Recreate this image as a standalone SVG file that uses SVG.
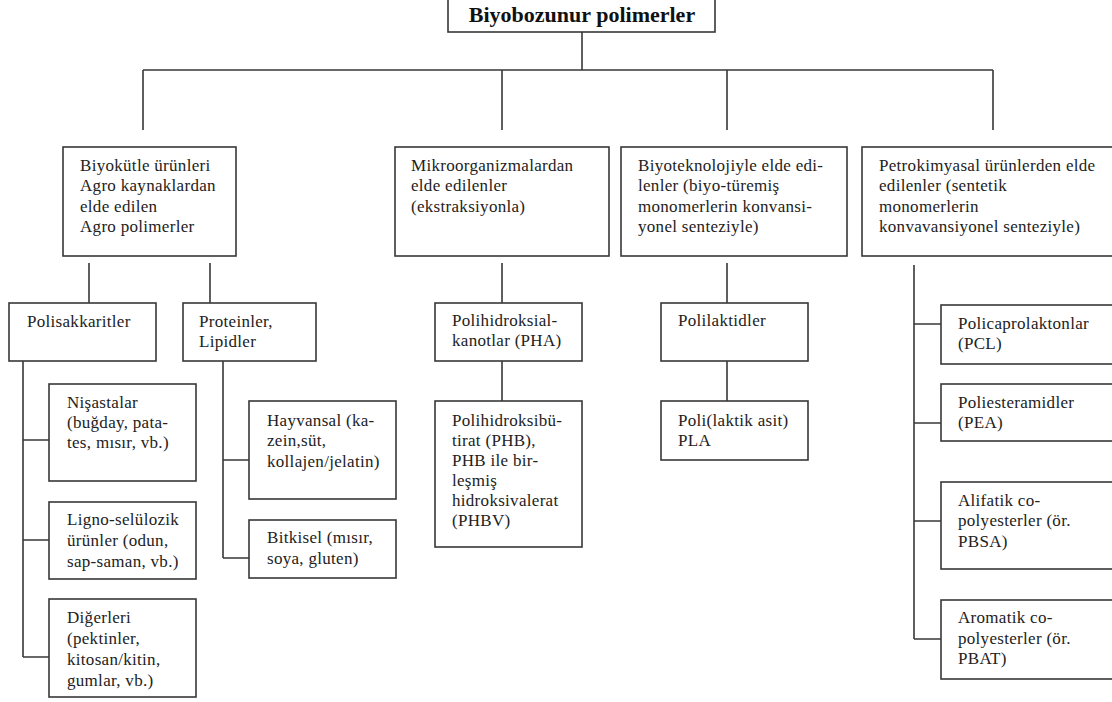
<svg xmlns="http://www.w3.org/2000/svg" width="1112" height="702" viewBox="0 0 1112 702">
<style>
.box{fill:#fff;stroke:#383838;stroke-width:1.6}
.c{fill:none;stroke:#383838;stroke-width:1.6}
.t{font-size:17px;letter-spacing:0.3px;fill:#222}
.h{font-size:22px;font-weight:bold;fill:#111}
</style>
<rect width="1112" height="702" fill="#fff"/>
<g id="connectors">
<path class="c" d="M582 32V70M143 70H993M143 70V130M502 70V130M727 70V130M993 70V130"/>
<path class="c" d="M89 263V303M210 263V303M502 263V303M727 263V303"/>
<path class="c" d="M23 361V657M23 440H49M23 540H49M23 657H49"/>
<path class="c" d="M223 361V558M223 460H249M223 558H249"/>
<path class="c" d="M502 361V401M727 361V401"/>
<path class="c" d="M914 265V639M914 324H941M914 423H941M914 521H941M914 639H941"/>
</g>
<g font-family="Liberation Serif, Times New Roman, Times, serif">
<g id="root">
<rect class="box" x="448" y="-2" width="267" height="34"/>
<text class="h" x="582" y="22" text-anchor="middle">Biyobozunur polimerler</text>
</g>
<g id="biyokutle">
<rect class="box" x="63" y="147" width="173" height="109"/>
<text class="t"><tspan x="80" y="171">Biyokütle ürünleri</tspan><tspan x="80" y="191">Agro kaynaklardan</tspan><tspan x="80" y="212">elde edilen</tspan><tspan x="80" y="232">Agro polimerler</tspan></text>
</g>
<g id="mikro">
<rect class="box" x="395" y="147" width="214" height="109"/>
<text class="t"><tspan x="411" y="171">Mikroorganizmalardan</tspan><tspan x="411" y="191">elde edilenler</tspan><tspan x="411" y="212">(ekstraksiyonla)</tspan></text>
</g>
<g id="biyotek">
<rect class="box" x="621" y="147" width="226" height="109"/>
<text class="t"><tspan x="638" y="171">Biyoteknolojiyle elde edi-</tspan><tspan x="638" y="191">lenler (biyo-türemiş</tspan><tspan x="638" y="212">monomerlerin konvansi-</tspan><tspan x="638" y="232">yonel senteziyle)</tspan></text>
</g>
<g id="petro">
<rect class="box" x="862" y="147" width="260" height="109"/>
<text class="t"><tspan x="879" y="171">Petrokimyasal ürünlerden elde</tspan><tspan x="879" y="191">edilenler (sentetik</tspan><tspan x="879" y="212">monomerlerin</tspan><tspan x="879" y="232">konvavansiyonel senteziyle)</tspan></text>
</g>
<g id="polisakkaritler">
<rect class="box" x="9" y="303" width="147" height="58"/>
<text class="t" x="27" y="327">Polisakkaritler</text>
</g>
<g id="proteinler">
<rect class="box" x="183" y="303" width="133" height="58"/>
<text class="t"><tspan x="199" y="327">Proteinler,</tspan><tspan x="199" y="347">Lipidler</tspan></text>
</g>
<g id="nisastalar">
<rect class="box" x="49" y="384" width="147" height="97"/>
<text class="t"><tspan x="67" y="408">Nişastalar</tspan><tspan x="67" y="428">(buğday, pata-</tspan><tspan x="67" y="448">tes, mısır, vb.)</tspan></text>
</g>
<g id="ligno">
<rect class="box" x="49" y="502" width="147" height="77"/>
<text class="t"><tspan x="67" y="525">Ligno-selülozik</tspan><tspan x="67" y="546">ürünler (odun,</tspan><tspan x="67" y="567">sap-saman, vb.)</tspan></text>
</g>
<g id="digerleri">
<rect class="box" x="49" y="599" width="147" height="98"/>
<text class="t"><tspan x="67" y="623">Diğerleri</tspan><tspan x="67" y="644">(pektinler,</tspan><tspan x="67" y="665">kitosan/kitin,</tspan><tspan x="67" y="686">gumlar, vb.)</tspan></text>
</g>
<g id="hayvansal">
<rect class="box" x="249" y="401" width="147" height="98"/>
<text class="t"><tspan x="267" y="426">Hayvansal (ka-</tspan><tspan x="267" y="446">zein,süt,</tspan><tspan x="267" y="467">kollajen/jelatin)</tspan></text>
</g>
<g id="bitkisel">
<rect class="box" x="249" y="520" width="147" height="58"/>
<text class="t"><tspan x="267" y="543">Bitkisel (mısır,</tspan><tspan x="267" y="564">soya, gluten)</tspan></text>
</g>
<g id="pha">
<rect class="box" x="435" y="303" width="147" height="58"/>
<text class="t"><tspan x="452" y="326">Polihidroksial-</tspan><tspan x="452" y="346">kanotlar (PHA)</tspan></text>
</g>
<g id="phb">
<rect class="box" x="435" y="401" width="147" height="146"/>
<text class="t"><tspan x="452" y="426">Polihidroksibü-</tspan><tspan x="452" y="446">tirat (PHB),</tspan><tspan x="452" y="466">PHB ile bir-</tspan><tspan x="452" y="486">leşmiş</tspan><tspan x="452" y="506">hidroksivalerat</tspan><tspan x="452" y="526">(PHBV)</tspan></text>
</g>
<g id="polilaktidler">
<rect class="box" x="661" y="303" width="147" height="58"/>
<text class="t" x="678" y="326">Polilaktidler</text>
</g>
<g id="pla">
<rect class="box" x="661" y="401" width="147" height="59"/>
<text class="t"><tspan x="678" y="426">Poli(laktik asit)</tspan><tspan x="678" y="446">PLA</tspan></text>
</g>
<g id="pcl">
<rect class="box" x="941" y="305" width="181" height="59"/>
<text class="t"><tspan x="958" y="329">Policaprolaktonlar</tspan><tspan x="958" y="349">(PCL)</tspan></text>
</g>
<g id="pea">
<rect class="box" x="941" y="384" width="181" height="57"/>
<text class="t"><tspan x="958" y="408">Poliesteramidler</tspan><tspan x="958" y="428">(PEA)</tspan></text>
</g>
<g id="alifatik">
<rect class="box" x="941" y="482" width="181" height="87"/>
<text class="t"><tspan x="958" y="506">Alifatik co-</tspan><tspan x="958" y="526">polyesterler (ör.</tspan><tspan x="958" y="547">PBSA)</tspan></text>
</g>
<g id="aromatik">
<rect class="box" x="941" y="600" width="181" height="79"/>
<text class="t"><tspan x="958" y="623">Aromatik co-</tspan><tspan x="958" y="644">polyesterler (ör.</tspan><tspan x="958" y="664">PBAT)</tspan></text>
</g>
</g>
</svg>
